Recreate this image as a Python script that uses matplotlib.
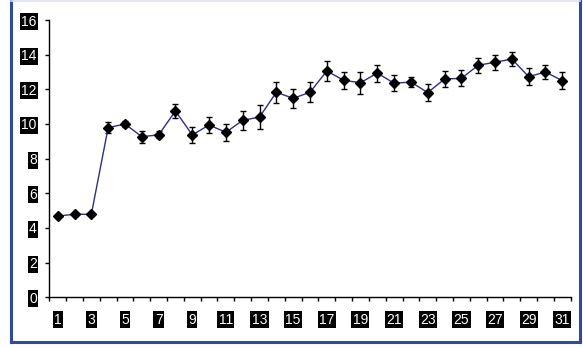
import matplotlib
matplotlib.use("Agg")
import matplotlib.pyplot as plt
from matplotlib.lines import Line2D
import numpy as np

days = list(range(1, 32))
values = [4.69, 4.79, 4.79, 9.79, 10.0, 9.27, 9.37, 10.75, 9.37, 9.94,
          9.52, 10.21, 10.4, 11.83, 11.48, 11.83, 13.06, 12.52, 12.38, 12.94,
          12.35, 12.42, 11.81, 12.6, 12.63, 13.39, 13.56, 13.75, 12.73, 13.0, 12.5]
errors = [0.08, 0.08, 0.08, 0.3, 0.2, 0.35, 0.2, 0.4, 0.45, 0.48,
          0.5, 0.55, 0.67, 0.62, 0.54, 0.58, 0.6, 0.48, 0.64, 0.49,
          0.46, 0.3, 0.5, 0.48, 0.46, 0.43, 0.44, 0.43, 0.49, 0.42, 0.49]
y_ticks = [0, 2, 4, 6, 8, 10, 12, 14, 16]
x_labels = [str(d) for d in range(1, 32, 2)]

plt.rcParams['font.family'] = ['Liberation Sans', 'DejaVu Sans']

W, H = 583, 348
fig = plt.figure(figsize=(W / 100, H / 100), dpi=100)
ax = fig.add_axes([49.3 / W, 1 - 297.3 / H, (570.7 - 49.3) / W, (297.3 - 20) / H])

ax.errorbar(days, values, yerr=errors, color='#2E2E8A', lw=1.0,
            marker='D', ms=5.5, mfc='black', mec='black',
            ecolor='black', elinewidth=1.0, capsize=2.5, capthick=1.0)

ax.set_xlim(0.5, 31.5)
ax.set_ylim(0, 16)
for s in ['top', 'right']:
    ax.spines[s].set_visible(False)
for s in ['left', 'bottom']:
    ax.spines[s].set_color('black')
    ax.spines[s].set_linewidth(1.0)

ax.set_yticks(y_ticks)
ax.set_yticklabels([str(t) for t in y_ticks])
ax.tick_params(axis='y', direction='out', length=3, width=1, pad=6,
               labelsize=10, labelcolor='white')
ax.set_xticks(np.arange(0.5, 32, 1), minor=True)
ax.set_xticks(range(1, 32, 2))
ax.set_xticklabels(x_labels)
ax.tick_params(axis='x', which='major', length=0, pad=11, labelsize=10,
               labelcolor='white')
ax.tick_params(axis='x', which='minor', direction='out', length=3, width=1)

for lab in ax.get_xticklabels() + ax.get_yticklabels():
    lab.set_bbox(dict(boxstyle='square,pad=0.1', fc='black', ec='none'))

# figure frame
blue = '#2F4B9C'
fig.add_artist(Line2D([11 / W, 11 / W], [1 - 342 / H, 1.0], transform=fig.transFigure,
                      color=blue, lw=2.2))
fig.add_artist(Line2D([579.5 / W, 579.5 / W], [1 - 342 / H, 1.0], transform=fig.transFigure,
                      color=blue, lw=2.2))
fig.add_artist(Line2D([11 / W, 579.5 / W], [1 - 342 / H, 1 - 342 / H], transform=fig.transFigure,
                      color=blue, lw=2.2))
fig.add_artist(Line2D([11 / W, 579.5 / W], [1 - 0.7 / H, 1 - 0.7 / H], transform=fig.transFigure,
                      color='#DDE1EE', lw=1.2))

fig.savefig('out.png', dpi=100)
